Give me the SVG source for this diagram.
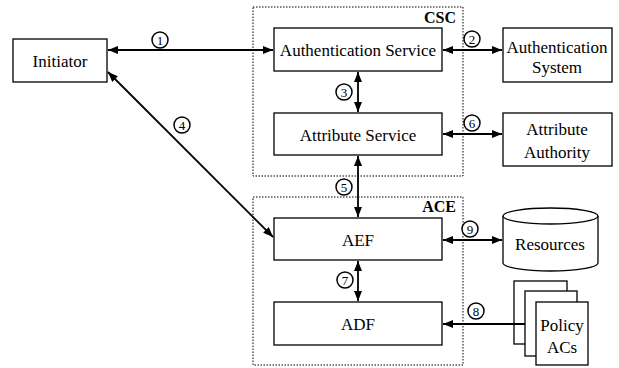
<svg xmlns="http://www.w3.org/2000/svg" width="619" height="368" viewBox="0 0 619 368">
<style>
.box{fill:#fff;stroke:#000;stroke-width:1.3}
.grp{fill:none;stroke:#000;stroke-width:1;stroke-dasharray:1.5,1.5}
text{font-family:'Liberation Serif','Times New Roman','DejaVu Serif',serif;fill:#000}
.t{font-size:17px;text-anchor:middle;dominant-baseline:central}
.gl{font-size:16px;font-weight:bold;text-anchor:end}
.c{fill:#fff;stroke:#000;stroke-width:1.5}
.n{font-size:13px;text-anchor:middle;dominant-baseline:central}
.ln{stroke:#000;stroke-width:1.8;fill:none}
</style>
<defs>
<marker id="ah" viewBox="0 0 10 8" refX="10" refY="4" markerWidth="10" markerHeight="8" markerUnits="userSpaceOnUse" orient="auto-start-reverse">
<path d="M0,0 L10,4 L0,8 Z" fill="#000"/>
</marker>
</defs>
<g id="csc">
<rect class="grp" x="253" y="7" width="210" height="169"/>
<text class="gl" x="456" y="23">CSC</text>
</g>
<g id="ace">
<rect class="grp" x="253" y="197" width="210" height="168"/>
<text class="gl" x="456" y="212">ACE</text>
</g>
<g id="initiator">
<rect class="box" x="13" y="39" width="94" height="43"/>
<text class="t" x="60" y="61">Initiator</text>
</g>
<g id="auth-service">
<rect class="box" x="274" y="28" width="168" height="43"/>
<text class="t" x="358" y="50">Authentication Service</text>
</g>
<g id="attr-service">
<rect class="box" x="274" y="113" width="168" height="42"/>
<text class="t" x="358" y="135">Attribute Service</text>
</g>
<g id="auth-system">
<rect class="box" x="503" y="28" width="109" height="54"/>
<text class="t" x="557" y="47">Authentication</text>
<text class="t" x="557" y="67">System</text>
</g>
<g id="attr-authority">
<rect class="box" x="503" y="113" width="109" height="53"/>
<text class="t" x="557" y="129">Attribute</text>
<text class="t" x="557" y="152">Authority</text>
</g>
<g id="aef">
<rect class="box" x="274" y="218" width="168" height="42"/>
<text class="t" x="358" y="240">AEF</text>
</g>
<g id="adf">
<rect class="box" x="274" y="302" width="168" height="43"/>
<text class="t" x="358" y="324">ADF</text>
</g>
<g id="resources">
<path class="box" d="M503,216 L503,263 A47.5,8 0 0 0 598,263 L598,216"/>
<ellipse class="box" cx="550.5" cy="216" rx="47.5" ry="8"/>
<text class="t" x="550" y="244">Resources</text>
</g>
<g id="connectors">
<line class="ln" x1="108" y1="50" x2="273" y2="50" marker-start="url(#ah)" marker-end="url(#ah)"/>
<line class="ln" x1="443" y1="50" x2="502" y2="50" marker-start="url(#ah)" marker-end="url(#ah)"/>
<line class="ln" x1="358" y1="72" x2="358" y2="112" marker-start="url(#ah)" marker-end="url(#ah)"/>
<line class="ln" x1="108" y1="72" x2="273" y2="237" marker-start="url(#ah)" marker-end="url(#ah)"/>
<line class="ln" x1="358" y1="156" x2="358" y2="217" marker-start="url(#ah)" marker-end="url(#ah)"/>
<line class="ln" x1="443" y1="134" x2="502" y2="134" marker-start="url(#ah)" marker-end="url(#ah)"/>
<line class="ln" x1="358" y1="261" x2="358" y2="301" marker-start="url(#ah)" marker-end="url(#ah)"/>
<line class="ln" x1="443" y1="240" x2="502" y2="240" marker-start="url(#ah)" marker-end="url(#ah)"/>
</g>
<g id="policy">
<rect class="box" x="514" y="281" width="53" height="63"/>
<line class="ln" x1="525" y1="324" x2="443" y2="324" marker-end="url(#ah)"/>
<rect class="box" x="525" y="291" width="52" height="65"/>
<rect class="box" x="536" y="302" width="52" height="63"/>
<text class="t" x="562" y="325">Policy</text>
<text class="t" x="562" y="347">ACs</text>
</g>
<g id="labels">
<circle class="c" cx="160" cy="40" r="8"/><text class="n" x="160" y="40">1</text>
<circle class="c" cx="472" cy="39" r="8"/><text class="n" x="472" y="39">2</text>
<circle class="c" cx="344" cy="92" r="8"/><text class="n" x="344" y="92">3</text>
<circle class="c" cx="182" cy="125" r="8"/><text class="n" x="182" y="125">4</text>
<circle class="c" cx="344" cy="187" r="8"/><text class="n" x="344" y="187">5</text>
<circle class="c" cx="472" cy="123" r="8"/><text class="n" x="472" y="123">6</text>
<circle class="c" cx="345" cy="280" r="8"/><text class="n" x="345" y="280">7</text>
<circle class="c" cx="476" cy="311" r="8"/><text class="n" x="476" y="311">8</text>
<circle class="c" cx="470" cy="229" r="8"/><text class="n" x="470" y="229">9</text>
</g>
</svg>
